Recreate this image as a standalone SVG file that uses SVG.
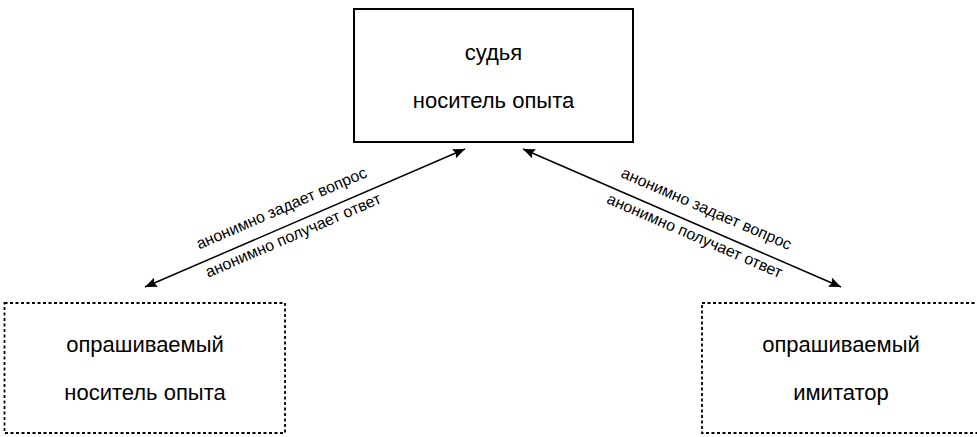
<svg xmlns="http://www.w3.org/2000/svg" width="977" height="437" viewBox="0 0 977 437">
<style>
  .box { fill: #ffffff; stroke: #000000; stroke-width: 2; }
  .dbox { fill: #ffffff; stroke: #000000; stroke-width: 1.8; stroke-dasharray: 3 2.5; }
  .t { font-family: "Liberation Sans", Arial, sans-serif; font-size: 22px; fill: #000000; text-anchor: middle; }
  .lbl { font-family: "Liberation Sans", Arial, sans-serif; font-size: 16px; fill: #000000; text-anchor: middle; }
  .conn { stroke: #000000; stroke-width: 1.5; fill: none; marker-start: url(#ah); marker-end: url(#ah); }
</style>
<defs>
  <marker id="ah" markerUnits="userSpaceOnUse" markerWidth="13" markerHeight="10" refX="12" refY="5" orient="auto-start-reverse" viewBox="0 0 13 10">
    <path d="M0,0 L12,5 L0,10 L2,5 z" fill="#000000"/>
  </marker>
</defs>
<rect width="977" height="437" fill="#ffffff"/>
<g id="connectors">
  <line class="conn" x1="145" y1="287" x2="465" y2="149"/>
  <line class="conn" x1="523" y1="149" x2="841" y2="287"/>
  <g transform="translate(288.7,225) rotate(-23.33)">
    <text class="lbl" x="0" y="-13">анонимно задает вопрос</text>
    <text class="lbl" x="0" y="16.5">анонимно получает ответ</text>
  </g>
  <g transform="translate(699.2,225.4) rotate(23.46)">
    <text class="lbl" x="0" y="-13">анонимно задает вопрос</text>
    <text class="lbl" x="0" y="16.5">анонимно получает ответ</text>
  </g>
</g>
<g id="judge">
  <rect class="box" x="354" y="9" width="279" height="133"/>
  <text class="t" x="493.5" y="60">судья</text>
  <text class="t" x="493.5" y="108">носитель опыта</text>
</g>
<g id="respondent-expert">
  <rect class="dbox" x="4.5" y="303" width="280.5" height="130"/>
  <text class="t" x="145" y="352">опрашиваемый</text>
  <text class="t" x="145" y="400">носитель опыта</text>
</g>
<g id="respondent-imitator">
  <rect class="dbox" x="702" y="303" width="285" height="130"/>
  <text class="t" x="841" y="352">опрашиваемый</text>
  <text class="t" x="841" y="400">имитатор</text>
</g>
</svg>
